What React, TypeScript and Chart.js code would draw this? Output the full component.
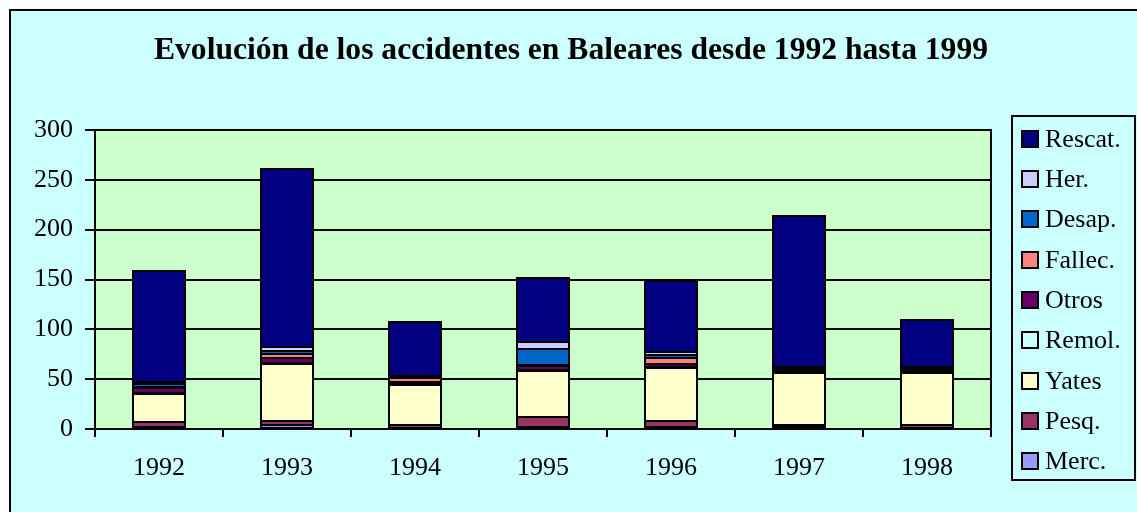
import React, { useEffect, useRef } from "react";
import { Chart, registerables } from "chart.js";

Chart.register(...registerables);

const categories = ["1992", "1993", "1994", "1995", "1996", "1997", "1998"];
const merc = [2, 4, 1, 2, 2, 2, 1];
const pesq = [5, 4, 3, 10, 6, 2, 3];
const yates = [28, 57, 40, 46, 53, 52, 52];
const remol = [1, 1, 1, 1, 1, 1, 1];
const otros = [5, 5, 2, 4, 3, 1, 2];
const fallec = [1, 4, 4, 1, 6, 1, 1];
const desap = [3, 3, 1, 16, 3, 2, 1];
const her = [2, 4, 1, 7, 3, 1, 1];
const rescat = [112, 179, 54, 65, 71, 152, 47];

const titleText = "Evolución de los accidentes en Baleares desde 1992 hasta 1999";
const FONT = '"Liberation Serif", "Times New Roman", serif';

const seriesDefs = [
  { label: "Merc.", data: merc, color: "#9999FF" },
  { label: "Pesq.", data: pesq, color: "#993366" },
  { label: "Yates", data: yates, color: "#FFFFCC" },
  { label: "Remol.", data: remol, color: "#CCFFFF" },
  { label: "Otros", data: otros, color: "#660066" },
  { label: "Fallec.", data: fallec, color: "#FF8080" },
  { label: "Desap.", data: desap, color: "#0066CC" },
  { label: "Her.", data: her, color: "#CCCCFF" },
  { label: "Rescat.", data: rescat, color: "#000080" },
];

const decorPlugin = {
  id: "decor",
  beforeDraw(chart: any) {
    const { ctx, chartArea } = chart;
    ctx.save();
    ctx.fillStyle = "#CCFFCC";
    ctx.fillRect(chartArea.left, chartArea.top, chartArea.right - chartArea.left, chartArea.bottom - chartArea.top);
    ctx.restore();
  },
  afterDatasetsDraw(chart: any) {
    const { ctx } = chart;
    ctx.save();
    ctx.strokeStyle = "#000";
    ctx.lineWidth = 2;
    chart.data.datasets.forEach((_d: any, di: number) => {
      const meta = chart.getDatasetMeta(di);
      meta.data.forEach((el: any) => {
        const p = el.getProps(["x", "y", "base", "width"], true);
        const l = Math.round(p.x - p.width / 2);
        const r = Math.round(p.x + p.width / 2);
        const t = Math.round(Math.min(p.y, p.base));
        const b = Math.round(Math.max(p.y, p.base));
        if (b - t <= 0) return;
        ctx.strokeRect(l, t, r - l, b - t);
      });
    });
    ctx.restore();
  },
  afterDraw(chart: any) {
    const { ctx, chartArea } = chart;
    ctx.save();
    ctx.strokeStyle = "#000";
    ctx.lineWidth = 2;
    ctx.strokeRect(chartArea.left, chartArea.top, chartArea.right - chartArea.left, chartArea.bottom - chartArea.top);
    ctx.fillStyle = "#000";
    ctx.font = `bold 31.6px ${FONT}`;
    ctx.textAlign = "center";
    ctx.textBaseline = "alphabetic";
    ctx.fillText(titleText, 560, 47.5);
    const lx = 1001, ly = 105, lw = 123, lh = 364;
    ctx.lineWidth = 2;
    ctx.strokeRect(lx, ly, lw, lh);
    const ds = chart.data.datasets.slice().reverse();
    ctx.font = `26px ${FONT}`;
    ctx.textAlign = "left";
    ctx.textBaseline = "middle";
    ds.forEach((d: any, i: number) => {
      const cy = Math.round(127.7 + i * 40.3);
      ctx.fillStyle = d.backgroundColor;
      ctx.fillRect(1011, cy - 8, 16, 16);
      ctx.strokeStyle = "#000";
      ctx.lineWidth = 2;
      ctx.strokeRect(1011, cy - 8, 16, 16);
      ctx.fillStyle = "#000";
      ctx.fillText(d.label, 1034, cy + 1);
    });
    ctx.restore();
  },
};

export default function App() {
  const ref = useRef<HTMLCanvasElement | null>(null);
  useEffect(() => {
    if (!ref.current) return;
    const chart = new Chart(ref.current, {
      type: "bar",
      data: {
        labels: categories,
        datasets: seriesDefs.map((s) => ({
          label: s.label,
          data: s.data,
          backgroundColor: s.color,
          borderWidth: 0,
          barPercentage: 0.4,
          categoryPercentage: 1,
        })),
      },
      options: {
        animation: false,
        responsive: false,
        maintainAspectRatio: false,
        layout: { padding: { top: 119, right: 146, left: 0, bottom: 0 } },
        plugins: { legend: { display: false }, tooltip: { enabled: false }, title: { display: false } },
        scales: {
          x: {
            stacked: true,
            grid: { offset: true, drawOnChartArea: false, drawTicks: true, tickLength: 8, color: "#000", lineWidth: 2 },
            border: { display: true, color: "#000", width: 2 },
            ticks: { color: "#000", font: { family: FONT, size: 26 }, padding: 16, maxRotation: 0 },
            afterFit: (s: any) => { s.height = 83; },
          },
          y: {
            stacked: true,
            min: 0,
            max: 300,
            ticks: { stepSize: 50, color: "#000", font: { family: FONT, size: 26 }, padding: 12 },
            grid: { color: "#000", lineWidth: 2, tickLength: 10, drawTicks: true },
            border: { display: true, color: "#000", width: 2 },
            afterFit: (s: any) => { s.width = 84; },
          },
        },
      },
      plugins: [decorPlugin],
    });
    return () => chart.destroy();
  }, []);
  return (
    <div
      style={{
        position: "absolute",
        left: 9,
        top: 9,
        width: 1128,
        height: 503,
        boxSizing: "border-box",
        borderLeft: "2px solid #000",
        borderTop: "2px solid #000",
        background: "#CCFFFF",
        overflow: "hidden",
      }}
    >
      <canvas ref={ref} width={1126} height={501} style={{ display: "block", width: 1126, height: 501 }} />
    </div>
  );
}
